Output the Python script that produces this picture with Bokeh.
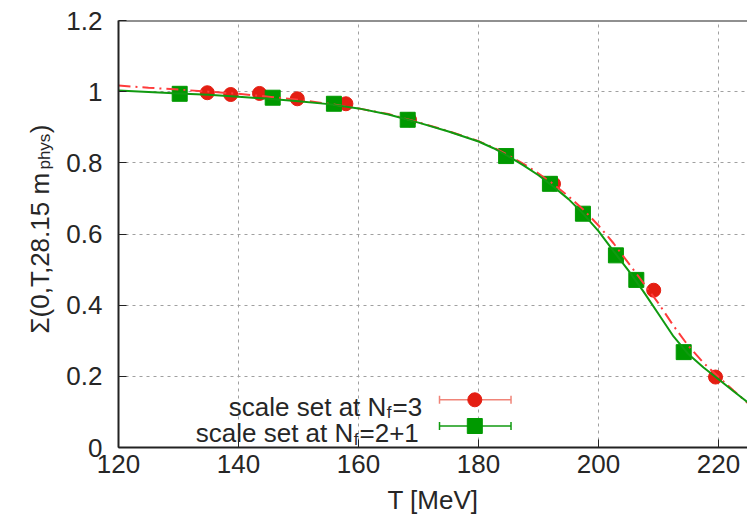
import math
from bokeh.plotting import figure
from bokeh.models import Label, Span, Range1d
from bokeh.layouts import row
from bokeh.core.properties import value
from bokeh.embed import file_html
from bokeh.resources import INLINE

# ---------------- data ----------------
t_nf3 = [134.8, 138.7, 143.5, 149.8, 157.9, 168.5, 192.5, 209.2, 219.5]
s_nf3 = [0.997, 0.992, 0.995, 0.980, 0.966, 0.921, 0.741, 0.442, 0.198]

t_nf21 = [130.2, 145.7, 155.9, 168.2, 184.6, 191.9, 197.4, 202.9, 206.3, 214.2]
s_nf21 = [0.994, 0.983, 0.966, 0.921, 0.819, 0.741, 0.657, 0.540, 0.471, 0.268]

fit_t = [120, 125, 130, 135, 140, 145, 150, 155, 160, 165, 170, 175, 180, 182.5,
         185, 187.5, 190, 192.5, 195, 197.5, 200, 202.5, 205, 207.5, 210, 212.5,
         215, 217.5, 220, 222.5, 225]
fit_nf3 = [1.017, 1.011, 1.006, 1.000, 0.994, 0.986, 0.977, 0.966, 0.953, 0.937,
           0.914, 0.889, 0.861, 0.843, 0.821, 0.797, 0.770, 0.740, 0.706, 0.668,
           0.624, 0.574, 0.518, 0.462, 0.405, 0.342, 0.285, 0.238, 0.198, 0.160,
           0.123]
fit_nf21 = [1.003, 0.999, 0.995, 0.991, 0.986, 0.980, 0.973, 0.965, 0.953, 0.936,
            0.913, 0.888, 0.860, 0.841, 0.818, 0.793, 0.765, 0.733, 0.698, 0.656,
            0.608, 0.552, 0.497, 0.438, 0.375, 0.312, 0.262, 0.225, 0.192, 0.158,
            0.125]

x_ticks = [120, 140, 160, 180, 200, 220]
y_ticks = [0, 0.2, 0.4, 0.6, 0.8, 1.0, 1.2]
y_tick_labels = ["0", "0.2", "0.4", "0.6", "0.8", "1", "1.2"]

label_nf3 = ("scale set at N", "f", "=3")
label_nf21 = ("scale set at N", "f", "=2+1")
x_title = "T [MeV]"
y_title = ("\u03a3(0,T,28.15 m", "phys", ")")

# ---------------- style ----------------
FONT = "Liberation Sans"
FS = 26
FS_SUB = 17
TXT = "#262626"
RED = "#e41e12"
RED_LINE = "#ff3c3c"
RED_BAR = "#f08478"
GREEN = "#009900"
GREEN_LINE = "#109a10"
DARK = "#222222"

# Arial / Liberation Sans advance widths (per 1000 em)
ADV = {"s": 500, "c": 500, "a": 556, "l": 222, "e": 556, " ": 278, "t": 278,
       "N": 722, "f": 278, "=": 584, "+": 584, "\u03a3": 618, "(": 333, ")": 333,
       ",": 278, ".": 278, "T": 611, "m": 833, "p": 556, "h": 556, "y": 500}
for d in "0123456789":
    ADV[d] = 556


def tw(s, size):
    return sum(ADV.get(ch, 556) for ch in s) * size / 1000.0


W_LEFT = 60          # width of the narrow figure holding the y title
FRAME_L = 118        # page x of the frame's left edge
FRAME_T, FRAME_B = 20, 447
H = 523
X0, X1 = 120, 224.83

p = figure(width=747 - W_LEFT, height=H, x_range=Range1d(X0, X1),
           y_range=Range1d(0, 1.2), output_backend="svg", toolbar_location=None,
           min_border_left=FRAME_L - W_LEFT, min_border_right=0,
           min_border_top=FRAME_T, min_border_bottom=H - FRAME_B)
p.outline_line_color = None

for ax in (p.xaxis[0], p.yaxis[0]):
    ax.axis_line_width = 2
    ax.axis_line_color = DARK
    ax.major_tick_in = 8
    ax.major_tick_out = 0
    ax.major_tick_line_color = DARK
    ax.major_tick_line_width = 1
    ax.minor_tick_line_color = None
    ax.major_label_text_font = FONT
    ax.major_label_text_font_size = f"{FS}px"
    ax.major_label_text_color = TXT

p.xaxis.ticker = x_ticks
p.yaxis.ticker = y_ticks
p.yaxis.major_label_overrides = {v: s for v, s in zip(y_ticks, y_tick_labels)}
p.yaxis.major_label_standoff = 16
p.xaxis.major_label_standoff = 7
p.xaxis.axis_label = x_title
p.xaxis.axis_label_text_font = FONT
p.xaxis.axis_label_text_font_size = f"{FS}px"
p.xaxis.axis_label_text_font_style = "normal"
p.xaxis.axis_label_text_color = TXT
p.xaxis.axis_label_standoff = 9

for g in (p.xgrid[0], p.ygrid[0]):
    g.grid_line_color = "#a0a0a0"
    g.grid_line_dash = "3 4"
    g.grid_line_width = 1
p.xgrid.ticker = x_ticks
p.ygrid.ticker = y_ticks

p.add_layout(Span(location=1.2, dimension="width", line_color=DARK, line_width=2))

# ---------------- data marks ----------------
p.scatter(t_nf3, s_nf3, marker="circle", size=14, fill_color=RED, line_color=RED)
p.scatter(t_nf21, s_nf21, marker="square", size=15, fill_color=GREEN, line_color=GREEN)
p.line(fit_t, fit_nf3, line_color=RED_LINE, line_width=2, line_dash="12 5 2 5")
p.line(fit_t, fit_nf21, line_color=GREEN_LINE, line_width=2)


# ---------------- helpers for pixel layout ----------------
def dx(px):
    return X0 + (px - FRAME_L) / 6.0


def dy(py):
    return (FRAME_B - py) * 1.2 / (FRAME_B - FRAME_T)


def lab(text, px, py, size=FS, align="left"):
    p.add_layout(Label(x=X0, y=0, x_units="data", y_units="data",
                       x_offset=px - FRAME_L, y_offset=FRAME_B - py, text=text,
                       text_font=FONT, text_font_size=f"{size}px", text_color=TXT,
                       text_align=align, text_baseline="alphabetic"))


# ---------------- legend ----------------
def legend_row(parts, right_px, row_py, color_bar, color_mark, marker, msize):
    main, sub, tail = parts
    base = row_py + 7
    lab(tail, right_px, base, align="right")
    x_sub_r = right_px - tw(tail, FS) - 1
    lab(sub, x_sub_r, base + 6, size=FS_SUB, align="right")
    x_main_r = x_sub_r - tw(sub, FS_SUB) - 0.5
    lab(main, x_main_r, base, align="right")
    yl = dy(row_py)
    cap = 4 * 1.2 / (FRAME_B - FRAME_T)
    p.segment(x0=[dx(439)], y0=[yl], x1=[dx(510.5)], y1=[yl], line_color=color_bar, line_width=1.5)
    p.segment(x0=[dx(439), dx(510.5)], y0=[yl - cap] * 2, x1=[dx(439), dx(510.5)],
              y1=[yl + cap] * 2, line_color=color_bar, line_width=1.5)
    p.scatter([dx(474.3)], [yl], marker=marker, size=msize, fill_color=color_mark,
              line_color=color_mark)


legend_row(label_nf3, 421.7, 399.3, RED_BAR, RED, "circle", 14)
legend_row(label_nf21, 418.3, 425.5, GREEN_LINE, GREEN, "square", 15)

# ---------------- y title (rotated, with subscript) in a narrow figure ----------------
# its frame spans the same page rows as the main frame, so data y == page y
yf = figure(width=W_LEFT, height=H, x_range=Range1d(0, W_LEFT),
            y_range=Range1d(FRAME_B, FRAME_T),
            output_backend="svg", toolbar_location=None,
            min_border_left=0, min_border_right=0,
            min_border_top=FRAME_T, min_border_bottom=H - FRAME_B)
yf.axis.visible = False
yf.grid.visible = False
yf.outline_line_color = None

ang = math.pi / 2
y0 = 333.0
base_x = 39.5
main, sub, tail = y_title
y_sub = y0 - tw(main, FS) - 0.5
y_tail = y_sub - tw(sub, FS_SUB) - 0.5
yf.text(x=[base_x], y=[y0], text=[main], angle=ang, text_font=value(FONT),
        text_font_size=f"{FS}px", text_color=TXT, text_align="left",
        text_baseline="alphabetic")
yf.text(x=[base_x + 4], y=[y_sub], text=[sub], angle=ang, text_font=value(FONT),
        text_font_size=f"{FS_SUB}px", text_color=TXT, text_align="left",
        text_baseline="alphabetic")
yf.text(x=[base_x], y=[y_tail], text=[tail], angle=ang, text_font=value(FONT),
        text_font_size=f"{FS}px", text_color=TXT, text_align="left",
        text_baseline="alphabetic")

layout = row(yf, p)
open("out.html", "w").write(file_html(layout, INLINE))
